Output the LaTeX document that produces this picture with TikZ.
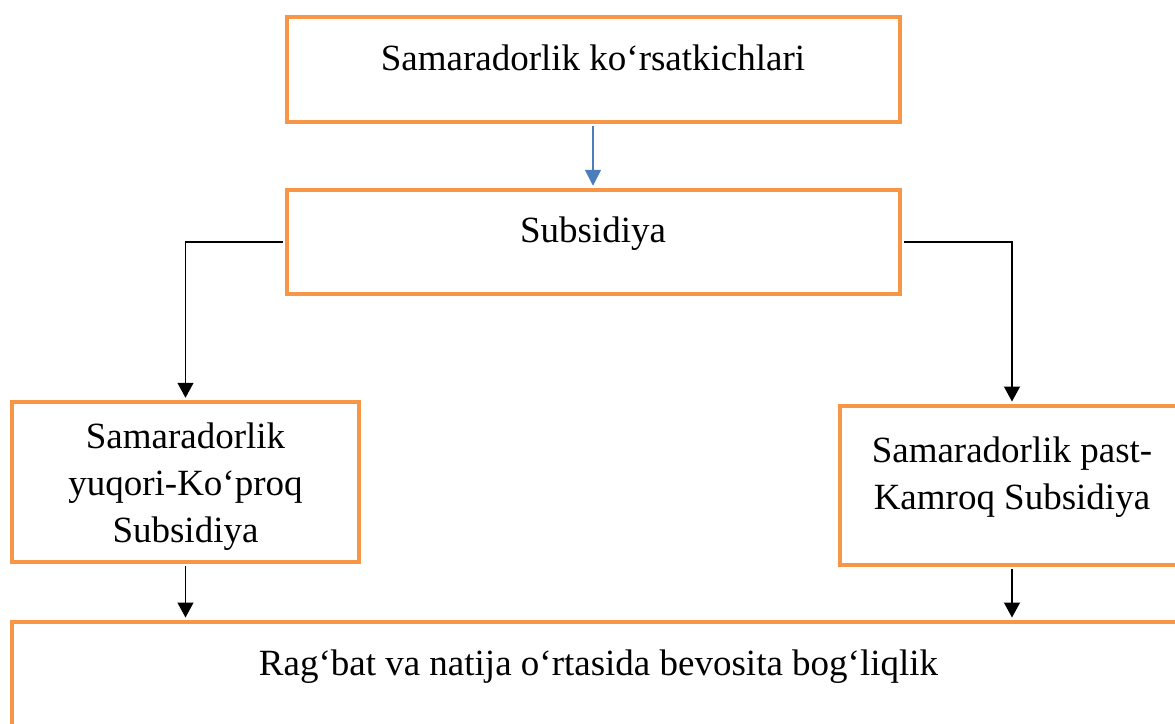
\documentclass[tikz,border=0pt]{standalone}
\usepackage{fontspec}
\setmainfont{Liberation Serif}
\usetikzlibrary{arrows.meta}
\definecolor{boxorange}{HTML}{F79646}
\definecolor{arrowblue}{HTML}{4A7EBB}
\tikzset{
  box/.style={draw=boxorange, line width=2pt, inner sep=0pt}, 
  lbl/.style={font=\fontsize{18.5}{23.5}\selectfont, align=center, inner sep=0pt}, 
  conn/.style={line width=0.65pt, shorten >=1pt, shorten <=1pt,
               -{Triangle[length=7.5pt,width=8pt]}}, 
  blueconn/.style={conn, draw=arrowblue, line width=0.75pt,
                   -{Triangle[length=8pt,width=8pt]}} 
}

\begin{document}
\begin{tikzpicture}[x=0.5pt,y=-0.5pt]
    \clip (0,0) rectangle (1175,724);

    % boxes
    \node[box, minimum width=306.5pt, minimum height=52.5pt] (top) at (593,69.5) {};
    \node[box, minimum width=306.5pt, minimum height=52.25pt] (sub) at (593,242) {};
    \node[box, minimum width=173.5pt, minimum height=80.25pt] (left) at (185.5,482) {};
    \node[box, minimum width=172pt, minimum height=79.5pt] (right) at (1012,485) {};
    \node[box, minimum width=586pt, minimum height=70pt] (bot) at (598,691.5) {};

    % texts
    \node[lbl, anchor=base] (toptext) at (593,70) {Samaradorlik ko‘rsatkichlari};
    \node[lbl, anchor=base] (subtext) at (593,242) {Subsidiya};
    \node[lbl] (lefttext) at (185.5,487) {Samaradorlik\\yuqori-Ko‘proq\\Subsidiya};
    \node[lbl] (righttext) at (1012,477) {Samaradorlik past-\\Kamroq Subsidiya};
    \node[lbl, anchor=base] (bottext) at (598.5,675) {Rag‘bat va natija o‘rtasida bevosita bog‘liqlik};

    \draw[blueconn] (top.south) -- (sub.north);
    \draw[conn] (sub.west) -| (left.north);
    \draw[conn] (sub.east) -| (right.north);
    \draw[conn] (left.south) -- (left.south |- bot.north);
    \draw[conn] (right.south) -- (right.south |- bot.north);
  \end{tikzpicture}
\end{document}
